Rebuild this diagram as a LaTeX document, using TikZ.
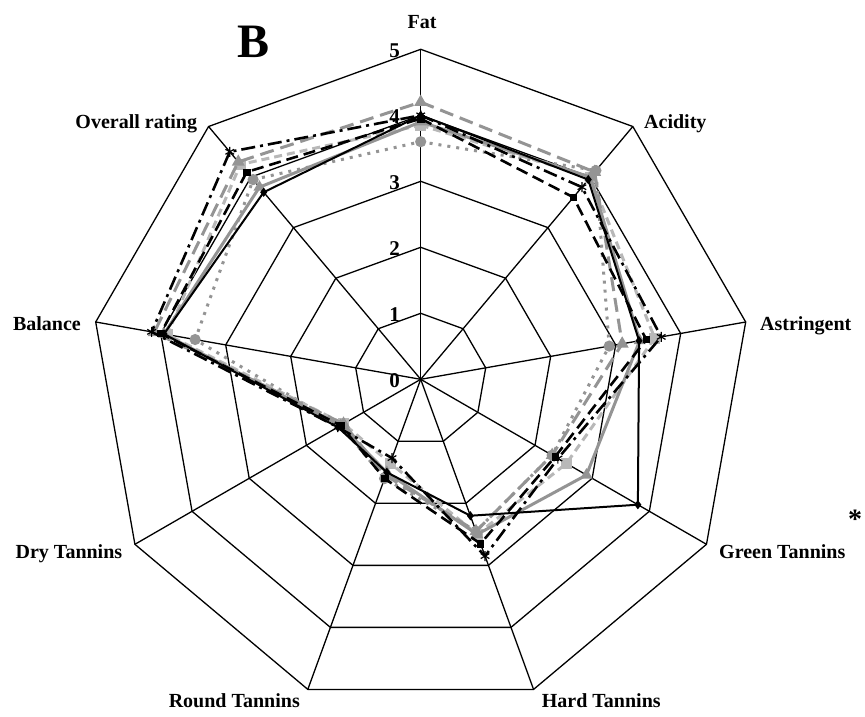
\documentclass[tikz,border=0pt]{standalone}
\usepackage{fontspec}
\setmainfont{Liberation Serif}
\usetikzlibrary{plotmarks}
\definecolor{midgray}{gray}{0.58}
\definecolor{lightgray}{gray}{0.72}
\tikzset{
  grid/.style={black, line width=1.3pt, line join=miter},
  axislabel/.style={inner sep=0pt, font=\bfseries\fontsize{20}{24}\selectfont},
  ticklabel/.style={inner sep=0pt, anchor=east, font=\bfseries\fontsize{21}{24}\selectfont},
  serA/.style={black, line width=2pt, mark=diamond*, mark size=3pt, mark options={solid, fill=black}},
  serB/.style={black, line width=2.6pt, dash pattern=on 12pt off 6pt, mark=square*, mark size=3.2pt, mark options={solid, fill=black, line width=0.5pt}},
  serC/.style={black, line width=2.6pt, dash pattern=on 14pt off 5pt on 3pt off 5pt, mark=asterisk, mark size=5pt, mark options={solid, line width=1.2pt}},
  serD/.style={midgray, line width=3pt, mark=triangle*, mark size=4pt, mark options={solid, fill=midgray}},
  serE/.style={midgray, line width=3pt, dash pattern=on 14pt off 7pt, mark=triangle*, mark size=4.5pt, mark options={solid, fill=midgray}},
  serF/.style={lightgray, line width=3pt, dash pattern=on 8pt off 5pt, mark=square*, mark size=4pt, mark options={solid, fill=lightgray}},
  serG/.style={midgray, line width=3pt, dash pattern=on 3pt off 6pt, mark=*, mark size=4pt, mark options={solid, fill=midgray}},
}
\begin{document}
\begin{tikzpicture}[x=1pt, y=1pt]
  % page frame, the web is centred on the origin
  \useasboundingbox (-420.7,-336.7) rectangle (444.3,379.3);
  \fill[white] (-420.7,-336.7) rectangle (444.3,379.3);

  % axis directions: Fat, Acidity, Astringent, Green, Hard, Round, Dry, Balance, Overall
  \coordinate (O) at (0,0);
  \foreach \ang [count=\k] in {90,50,10,-30,-70,-110,-150,170,130}
    \coordinate (tip\k) at (\ang:330);

  % rings 1..5
  \foreach \r in {1,...,5}
    \draw[grid] (90:66*\r) -- (50:66*\r) -- (10:66*\r) -- (-30:66*\r) -- (-70:66*\r)
      -- (-110:66*\r) -- (-150:66*\r) -- (170:66*\r) -- (130:66*\r) -- cycle;
  % spokes
  \foreach \k in {1,...,9}
    \draw[grid] (O) -- (tip\k);

  % tick values on the Fat spoke
  \foreach \r in {0,...,5}
    \node[ticklabel] (tick\r) at (-20.7,66*\r-1) {\r};

  % data series, one unit of score = 66pt
  \begin{scope}[x=66pt, y=66pt]
    \draw[serG] plot[sharp cycle] coordinates {(90:3.6) (50:4.13) (10:2.9) (-30:2.3) (-70:2.45) (-110:1.6) (-150:1.4) (170:3.47) (130:3.95)};
    \draw[serF] plot[sharp cycle] coordinates {(90:3.85) (50:4.0) (10:3.6) (-30:2.55) (-70:2.5) (-110:1.35) (-150:1.35) (170:3.9) (130:4.25)};
    \draw[serE] plot[sharp cycle] coordinates {(90:4.2) (50:4.1) (10:3.1) (-30:2.3) (-70:2.45) (-110:1.55) (-150:1.35) (170:4.1) (130:4.3)};
    \draw[serD] plot[sharp cycle] coordinates {(90:3.9) (50:4.0) (10:3.37) (-30:2.9) (-70:2.5) (-110:1.5) (-150:1.4) (170:3.95) (130:3.8)};
    \draw[serB] plot[sharp cycle] coordinates {(90:3.95) (50:3.6) (10:3.47) (-30:2.35) (-70:2.65) (-110:1.6) (-150:1.4) (170:4.0) (130:4.1)};
    \draw[serC] plot[sharp cycle] coordinates {(90:4.0) (50:3.8) (10:3.7) (-30:2.4) (-70:2.85) (-110:1.27) (-150:1.45) (170:4.14) (130:4.5)};
    \draw[serA] plot[sharp cycle] coordinates {(90:4.0) (50:3.95) (10:3.36) (-30:3.8) (-70:2.2) (-110:1.5) (-150:1.45) (170:3.95) (130:3.7)};
  \end{scope}

  % attribute names
  \node[axislabel, anchor=base] (lFat) at (1.3,351.3) {Fat};
  \node[axislabel, anchor=base west] (lAcid) at (223.3,251.3) {Acidity};
  \node[axislabel, anchor=base west] (lAstr) at (339.3,49.3) {Astringent};
  \node[axislabel, anchor=base west] (lGreen) at (298.3,-178.7) {Green Tannins};
  \node[axislabel, anchor=base west] (lHard) at (121,-327.7) {Hard Tannins};
  \node[axislabel, anchor=base east] (lRound) at (-120.7,-327.7) {Round Tannins};
  \node[axislabel, anchor=base east] (lDry) at (-298.3,-178.7) {Dry Tannins};
  \node[axislabel, anchor=base east] (lBal) at (-339.7,49.3) {Balance};
  \node[axislabel, anchor=base east] (lOver) at (-223.4,250.8) {Overall rating};

  % significance mark and panel letter
  \node[inner sep=0pt, font=\bfseries\fontsize{28}{30}\selectfont] (sig) at (434.3,-140) {*};
  \node[inner sep=0pt, font=\bfseries\fontsize{48}{50}\selectfont] (panel) at (-166.7,337.3) {B};
\end{tikzpicture}
\end{document}
